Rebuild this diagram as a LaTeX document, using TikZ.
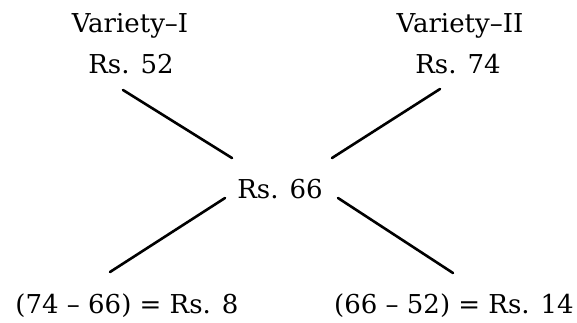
\documentclass[tikz,border=0pt]{standalone}
\usepackage{fontspec}
\setmainfont{DejaVu Serif}
\begin{document}
\begin{tikzpicture}[x=1pt,y=-1pt,
  lbl/.style={inner sep=0pt,anchor=base,font=\fontsize{26}{30}\selectfont},
  conn/.style={line width=2.6pt,line cap=round}]
\useasboundingbox (0,0) rectangle (577,322);
\node[lbl] (v1) at (130,32) {Variety–I};
\node[lbl] (p1) at (131,73) {Rs. 52};
\node[lbl] (v2) at (460,32) {Variety–II};
\node[lbl] (p2) at (458,73) {Rs. 74};
\node[lbl] (c) at (280,198) {Rs. 66};
\node[lbl] (d1) at (127,313) {(74 – 66) = Rs. 8};
\node[lbl] (d2) at (454,313) {(66 – 52) = Rs. 14};
\coordinate (a1) at (123,90);  \coordinate (a2) at (232,158);
\coordinate (b1) at (440,89);  \coordinate (b2) at (332,158);
\coordinate (c1) at (225,198); \coordinate (c2) at (110,272);
\coordinate (e1) at (338,198); \coordinate (e2) at (453,273);
\draw[conn] (a1) -- (a2);
\draw[conn] (b1) -- (b2);
\draw[conn] (c1) -- (c2);
\draw[conn] (e1) -- (e2);
\end{tikzpicture}
\end{document}
